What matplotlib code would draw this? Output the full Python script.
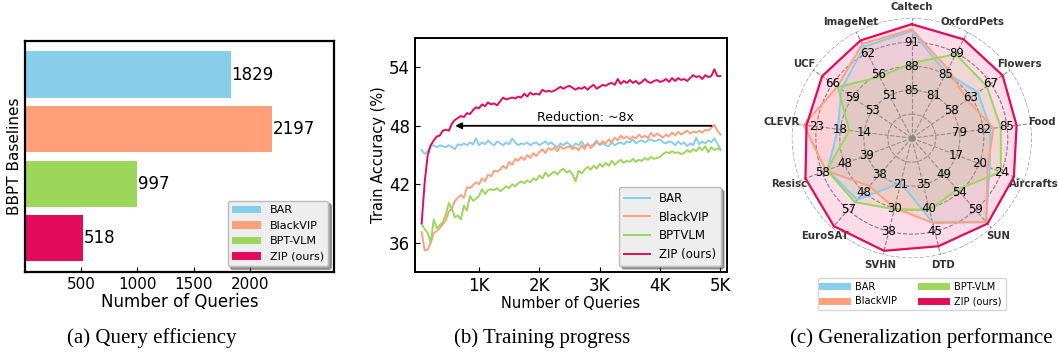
import matplotlib.pyplot as plt
import numpy as np

# ---------------- data ----------------
methods = ['BAR', 'BlackVIP', 'BPT-VLM', 'ZIP (ours)']
line_labels = ['BAR', 'BlackVIP', 'BPTVLM', 'ZIP (ours)']
colors = ['#87ceeb', '#ffa07a', '#9cd65a', '#e30b5c']

# (a) queries needed
queries = [1829, 2197, 997, 518]

# (b) training progress, one value every 50 queries (50 ... 5000)
steps = np.arange(50, 5001, 50)
acc_bar = [45.5, 45.1, 45.4, 45.9, 46.0, 45.8, 46.0, 45.9, 45.8, 46.0,
           45.8, 45.6, 46.1, 46.0, 46.2, 46.0, 46.3, 46.1, 46.7, 46.0,
           46.3, 46.1, 46.5, 46.2, 46.0, 46.4, 46.2, 46.0, 46.3, 46.1,
           46.7, 46.3, 46.0, 46.2, 46.1, 46.3, 46.0, 46.2, 46.3, 46.0,
           46.2, 46.4, 46.1, 46.3, 46.0, 45.8, 46.2, 46.0, 46.3, 46.1,
           45.8, 46.2, 46.0, 46.4, 45.9, 46.1, 45.9, 46.1, 46.5, 46.0,
           46.2, 46.0, 45.9, 46.3, 46.0, 46.2, 46.3, 46.1, 46.4, 46.3,
           46.6, 46.2, 46.4, 46.5, 46.3, 46.5, 46.6, 46.4, 46.5, 46.6,
           46.3, 46.2, 46.4, 46.3, 46.0, 46.4, 46.1, 46.3, 45.9, 46.2,
           46.0, 46.8, 46.1, 46.4, 46.2, 46.5, 46.3, 46.7, 46.2, 45.6]
acc_blackvip = [37.1, 35.2, 35.3, 36.0, 37.0, 37.2, 37.5, 37.9, 38.3, 39.2,
                39.5, 40.3, 40.6, 40.9, 40.6, 41.7, 41.6, 41.9, 42.2, 42.0,
                42.6, 42.3, 43.0, 42.8, 43.4, 43.3, 43.5, 43.9, 43.6, 44.3,
                44.0, 44.6, 44.4, 44.8, 44.5, 45.0, 44.7, 45.2, 44.9, 45.3,
                45.6, 45.2, 45.7, 45.5, 45.8, 45.4, 45.9, 45.6, 45.8, 45.9,
                45.6, 45.8, 45.5, 46.0, 45.6, 46.2, 45.7, 46.0, 46.3, 46.1,
                46.4, 46.2, 46.6, 46.3, 46.8, 46.5, 47.0, 46.7, 46.9, 46.6,
                46.9, 46.7, 47.1, 46.8, 47.0, 46.7, 47.3, 46.9, 47.2, 47.0,
                46.8, 47.1, 46.9, 47.3, 47.0, 47.4, 47.1, 47.3, 47.5, 47.2,
                47.4, 47.3, 47.5, 47.3, 47.6, 47.5, 47.8, 48.1, 47.5, 47.1]
acc_bptvlm = [37.9, 37.4, 37.0, 36.0, 38.4, 37.5, 37.8, 38.1, 38.9, 40.1,
              39.5, 38.6, 38.8, 38.4, 39.8, 39.3, 40.8, 40.3, 40.5, 40.8,
              41.5, 41.0, 41.4, 41.5, 41.4, 41.6, 41.3, 41.5, 41.8, 41.6,
              42.0, 41.8, 42.1, 42.3, 42.1, 42.4, 42.2, 42.6, 42.4, 42.9,
              42.6, 43.2, 42.8, 43.1, 43.3, 43.0, 43.4, 43.6, 43.2, 43.4,
              43.0, 42.3, 43.4, 43.1, 43.5, 43.8, 43.5, 43.9, 43.6, 44.1,
              43.8, 44.2, 43.9, 44.4, 44.0, 44.3, 44.5, 44.2, 44.4, 44.3,
              44.6, 44.3, 44.5, 44.4, 44.7, 44.5, 44.8, 44.6, 44.7, 44.8,
              45.1, 45.3, 45.2, 45.4, 45.2, 45.3, 45.1, 45.2, 45.5, 45.3,
              45.6, 45.4, 45.8, 45.5, 45.9, 45.3, 45.8, 45.5, 45.7, 45.5]
acc_zip = [38.0, 42.2, 45.0, 46.0, 46.5, 46.9, 47.0, 47.5, 47.6, 47.5,
           48.2, 48.6, 48.8, 49.0, 48.9, 49.3, 49.2, 49.6, 49.9, 49.8,
           50.2, 50.0, 50.4, 50.2, 50.3, 50.1, 50.5, 50.9, 50.7, 50.8,
           50.9, 50.8, 51.0, 50.9, 51.3, 51.0, 51.4, 51.2, 51.3, 51.2,
           51.7, 51.5, 51.6, 51.5, 51.6, 51.8, 52.0, 51.8, 52.0, 52.1,
           51.9, 51.7, 51.9, 51.8, 52.0, 51.7, 52.0, 52.2, 51.8, 52.0,
           52.2, 52.1, 52.3, 52.4, 52.2, 52.8, 52.3, 52.6, 52.4, 52.7,
           52.4, 52.6, 52.3, 52.5, 52.8, 52.5, 52.4, 52.6, 52.7, 52.5,
           52.6, 52.8, 52.5, 52.9, 52.6, 52.9, 52.7, 52.8, 52.6, 52.9,
           53.2, 53.0, 53.1, 52.8, 53.2, 53.0, 53.1, 53.8, 53.1, 53.1]
curves = [acc_bar, acc_blackvip, acc_bptvlm, acc_zip]

# (c) generalization, per-dataset accuracy
datasets = ['Caltech', 'OxfordPets', 'Flowers', 'Food', 'Aircrafts', 'SUN', 'DTD',
            'SVHN', 'EuroSAT', 'Resisc', 'CLEVR', 'UCF', 'ImageNet']
ring_ticks = [[85, 88, 91], [81, 85, 89], [58, 63, 67], [79, 82, 85], [17, 20, 24],
              [49, 54, 59], [35, 40, 45], [21, 30, 38], [38, 48, 57], [39, 48, 58],
              [14, 18, 23], [53, 59, 66], [51, 56, 62]]
gen_bar = [92.4, 85.3, 64.4, 82.9, 21.9, 62.3, 43.1, 20.3, 51.9, 55.6, 18.5, 63.0, 63.8]
gen_blackvip = [92.6, 86.0, 62.0, 83.3, 21.5, 62.4, 43.2, 30.0, 44.7, 56.2, 25.7, 64.4, 64.6]
gen_bptvlm = [88.4, 88.8, 66.2, 84.2, 23.9, 53.3, 40.4, 30.4, 53.1, 55.9, 16.5, 64.2, 55.4]
gen_zip = [93.25, 91.6, 69.4, 86.2, 26.2, 62.8, 48.2, 44.7, 65.1, 65.4, 25.1, 69.8, 65.6]
gen = [gen_bar, gen_blackvip, gen_bptvlm, gen_zip]


def to_radius(v, t):
    # tick values sit on rings 0.4 / 0.6 / 0.8
    if v <= t[1]:
        return 0.4 + (v - t[0]) / (t[1] - t[0]) * 0.2
    return 0.6 + (v - t[1]) / (t[2] - t[1]) * 0.2


fig = plt.figure(figsize=(10.59, 3.56), dpi=100)

# ---------------- (a) bar chart ----------------
ax1 = fig.add_axes([0.0236, 0.236, 0.2918, 0.649])
ypos = np.arange(len(methods))[::-1]
bars = ax1.barh(ypos, queries, height=0.85, color=colors, label=methods)
for y, q in zip(ypos, queries):
    ax1.text(q + 5, y, str(q), va='center', ha='left', fontsize=12)
ax1.set_xlim(0, 2750)
ax1.set_xticks([500, 1000, 1500, 2000])
ax1.set_yticks([])
ax1.tick_params(axis='x', direction='in', labelsize=11)
ax1.set_xlabel('Number of Queries', fontsize=12, labelpad=1)
ax1.set_ylabel('BBPT Baselines', fontsize=11, labelpad=2)
for s in ax1.spines.values():
    s.set_linewidth(1.6)
ax1.legend(bars, methods, loc='lower right', fontsize=8, handlelength=2.6,
           shadow=True, facecolor='#eeeeee', edgecolor='#bbbbbb', framealpha=1)

# ---------------- (b) training progress ----------------
ax2 = fig.add_axes([0.3919, 0.236, 0.2946, 0.657])
for acc, c, lab in zip(curves, colors, line_labels):
    ax2.plot(steps, acc, color=c, lw=1.4, label=lab)
ax2.annotate('', xy=(560, 48.0), xytext=(4900, 48.0),
             arrowprops=dict(arrowstyle='-|>', color='black', lw=1.3, mutation_scale=9))
ax2.text(2760, 48.85, 'Reduction: ~8x', ha='center', va='center', fontsize=9)
ax2.set_xlim(-60, 5110)
ax2.set_ylim(33, 57)
ax2.set_xticks([1000, 2000, 3000, 4000, 5000])
ax2.set_xticklabels(['1K', '2K', '3K', '4K', '5K'])
ax2.set_yticks([36, 42, 48, 54])
ax2.tick_params(direction='in', labelsize=12)
ax2.set_xlabel('Number of Queries', fontsize=10.5, labelpad=1)
ax2.set_ylabel('Train Accuracy (%)', fontsize=10.5, labelpad=2)
for s in ax2.spines.values():
    s.set_linewidth(1.4)
ax2.legend(loc='lower right', fontsize=8.5, handlelength=2.2, shadow=True,
           facecolor='#eeeeee', edgecolor='#bbbbbb', framealpha=1)

# ---------------- (c) radar ----------------
ax3 = fig.add_axes([0.7477, 0.275, 0.2266, 0.674], projection='polar')
ax3.set_theta_zero_location('N')
ax3.set_theta_direction(-1)
n = len(datasets)
theta = np.linspace(0, 2 * np.pi, n, endpoint=False)
th_closed = np.append(theta, theta[0])
handles = []
order = [1, 0, 2, 3]
for k in order:
    r = [to_radius(v, t) for v, t in zip(gen[k], ring_ticks)]
    r = r + [r[0]]
    ax3.plot(th_closed, r, color=colors[k], lw=1.4 if k < 3 else 1.6, zorder=3 + k)
    ax3.fill(th_closed, r, color=colors[k], alpha=0.14, zorder=2)
for k in range(4):
    handles.append(plt.Line2D([], [], color=colors[k], lw=5))
ax3.set_ylim(0, 1.0)
ax3.set_xticks(theta)
ax3.set_xticklabels([])
ax3.set_yticks([0.2, 0.4, 0.6, 0.8, 1.0])
ax3.set_yticklabels([])
ax3.grid(True, color='#888888', linestyle='--', lw=0.8)
ax3.spines['polar'].set_visible(False)
ax3.tick_params(length=0)
for th, name, t in zip(theta, datasets, ring_ticks):
    ax3.text(th, 1.09, name, ha='center', va='center', fontsize=7.3,
             fontweight='bold', color='#333333')
    for rr, val in zip([0.4, 0.6, 0.8], t):
        ax3.text(th, rr, str(val), ha='center', va='center', fontsize=8.5, zorder=10)
ax3.scatter([0], [0], s=12, color='#888888', zorder=10)
fig.legend(handles, methods, ncol=2, loc='center', bbox_to_anchor=(0.861, 0.174),
           fontsize=7, handlelength=2.6, columnspacing=2.5, frameon=True,
           edgecolor='#cccccc')

# ---------------- captions ----------------
cap = dict(fontsize=15, family='Liberation Serif', ha='center', va='center')
fig.text(152 / 1059, 1 - 338 / 356, '(a) Query efficiency', **cap)
fig.text(542 / 1059, 1 - 338 / 356, '(b) Training progress', **cap)
fig.text(921 / 1059, 1 - 338 / 356, '(c) Generalization performance', **cap)

fig.savefig('out.png', dpi=100)
